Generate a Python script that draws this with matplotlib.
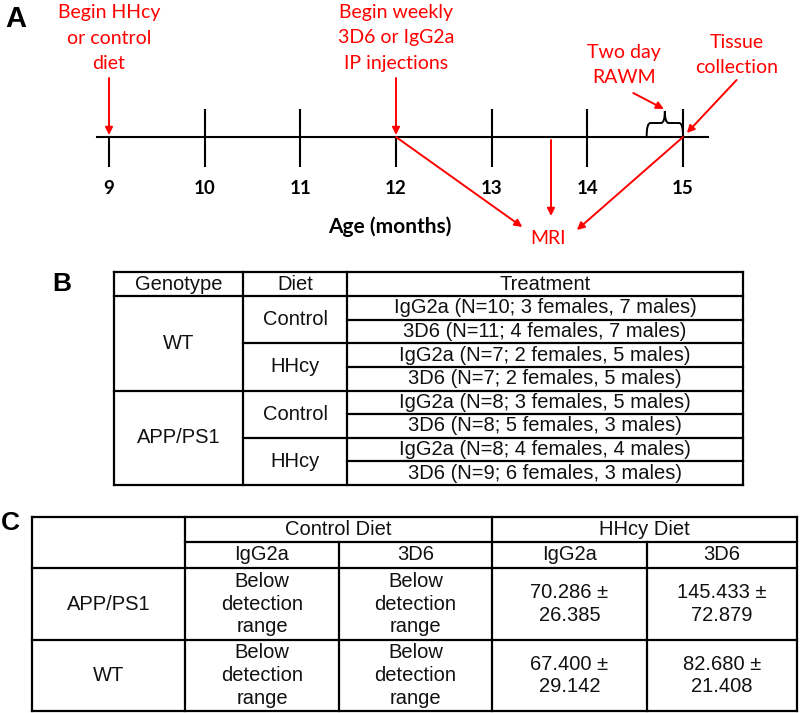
import numpy as np
import matplotlib.pyplot as plt
from matplotlib.path import Path
from matplotlib.patches import PathPatch

# ---- panel A: study timeline (age in months) ----
months = [9, 10, 11, 12, 13, 14, 15]
start_events = ["Begin HHcy\nor control\ndiet", "Begin weekly\n3D6 or IgG2a\nIP injections"]
start_months = [9, 12]
mri_month = 13.62
rawm_months = [14.62, 15.0]
tissue_month = 15

# ---- panel B: experimental groups ----
b_header = ["Genotype", "Diet", "Treatment"]
genotypes = ["WT", "APP/PS1"]
diets = ["Control", "HHcy"]
treatments = [
    "IgG2a (N=10; 3 females, 7 males)",
    "3D6 (N=11; 4 females, 7 males)",
    "IgG2a (N=7; 2 females, 5 males)",
    "3D6 (N=7; 2 females, 5 males)",
    "IgG2a (N=8; 3 females, 5 males)",
    "3D6 (N=8; 5 females, 3 males)",
    "IgG2a (N=8; 4 females, 4 males)",
    "3D6 (N=9; 6 females, 3 males)",
]

# ---- panel C: plasma values ----
c_diets = ["Control Diet", "HHcy Diet"]
c_antibodies = ["IgG2a", "3D6", "IgG2a", "3D6"]
c_rows = ["APP/PS1", "WT"]
c_mean = [[None, None, 70.286, 145.433], [None, None, 67.400, 82.680]]
c_sd = [[None, None, 26.385, 72.879], [None, None, 29.142, 21.408]]
below = "Below\ndetection\nrange"

RED = "#ff0000"
TL_FONT = "Lato"
TAB_FONT = "Liberation Sans"
TAB_SIZE = 14.5

fig = plt.figure(figsize=(8, 7.13), dpi=100)

# pixel-space axes for the tables and panel letters
pix = fig.add_axes([0, 0, 1, 1])
pix.set_xlim(0, 800)
pix.set_ylim(713, 0)
pix.axis("off")

# timeline axes: x in months
tl = fig.add_axes([0, 0, 1, 1])
ppm = 95.67  # pixels per month
tl.set_xlim(9 - 109 / ppm, 9 + 691 / ppm)
tl.set_ylim(713, 0)
tl.axis("off")

# panel letters
for letter, (x, y), fs in zip("ABC", [(16, 19), (62, 284), (10, 523)], [21, 19, 19]):
    pix.text(x, y, letter, ha="center", va="center", fontsize=fs,
             fontweight="bold", family="Liberation Sans")

# ---- A ----
tl.plot([8.875, 15.26], [137, 137], color="k", lw=1.5)
for m in months:
    top = 137 if m in start_months else 110
    tl.plot([m, m], [top, 166], color="k", lw=1.5)
    tl.text(m, 188, str(m), ha="center", va="center", fontsize=13.5,
            fontweight="bold", family=TL_FONT)
tl.text(11.94, 227, "Age (months)", ha="center", va="center", fontsize=15,
        fontweight="bold", family=TL_FONT)

arrow = dict(arrowstyle="-|>", color=RED, lw=1.4, mutation_scale=11,
             shrinkA=0, shrinkB=0)
tfont = dict(color=RED, fontsize=14, family=TL_FONT, ha="center",
             va="center", linespacing=1.58)

for label, m in zip(start_events, start_months):
    tl.text(m, 38, label, **tfont)
    tl.annotate("", xy=(m, 135), xytext=(m, 78), arrowprops=arrow)

# MRI
tl.text(mri_month - 0.03, 238, "MRI", **tfont)
tl.annotate("", xy=(mri_month, 216), xytext=(mri_month, 140), arrowprops=arrow)
tl.annotate("", xy=(13.32, 227), xytext=(12, 137), arrowprops=arrow)
tl.annotate("", xy=(13.89, 230), xytext=(tissue_month, 137), arrowprops=arrow)

# RAWM brace
l, r = rawm_months
c = (l + r) / 2
d = 0.04
verts = [(l, 136), (l, 123), (l + d, 123), (c - d, 123), (c, 123), (c, 111),
         (c, 123), (c + d, 123), (r - d, 123), (r, 123), (r, 136)]
codes = [Path.MOVETO, Path.CURVE3, Path.CURVE3, Path.LINETO, Path.CURVE3,
         Path.CURVE3, Path.CURVE3, Path.CURVE3, Path.LINETO, Path.CURVE3,
         Path.CURVE3]
tl.add_patch(PathPatch(Path(verts, codes), fill=False, color="k", lw=1.4))
tl.text(14.38, 65, "Two day\nRAWM", **tfont)
tl.annotate("", xy=(c - 0.01, 109), xytext=(14.48, 93), arrowprops=arrow)

tl.text(15.56, 55, "Tissue\ncollection", **tfont)
tl.annotate("", xy=(tissue_month + 0.04, 133), xytext=(15.56, 80), arrowprops=arrow)

# ---- table helpers ----
LW = 1.6


def hline(y, x0, x1):
    pix.plot([x0, x1], [y, y], color="k", lw=LW, solid_capstyle="projecting")


def vline(x, y0, y1):
    pix.plot([x, x], [y0, y1], color="k", lw=LW, solid_capstyle="projecting")


def cell_text(x, y, s, **kw):
    pix.text(x, y, s, ha="center", va="center", fontsize=TAB_SIZE,
             family=TAB_FONT, color="#111111", **kw)


# ---- B ----
bx = [114, 243, 347, 743]
b_top = 272
by = np.linspace(296, 485, len(treatments) + 1)

hline(b_top, bx[0], bx[-1])
hline(by[0], bx[0], bx[-1])
for x in bx:
    vline(x, b_top, by[-1])
for i in range(1, len(treatments) + 1):
    if i % 4 == 0:
        x0 = bx[0]
    elif i % 2 == 0:
        x0 = bx[1]
    else:
        x0 = bx[2]
    hline(by[i], x0, bx[-1])

for i, h in enumerate(b_header):
    cell_text((bx[i] + bx[i + 1]) / 2, (b_top + by[0]) / 2, h)
for gi, g in enumerate(genotypes):
    cell_text((bx[0] + bx[1]) / 2, (by[gi * 4] + by[gi * 4 + 4]) / 2, g)
    for di, dname in enumerate(diets):
        k = gi * 2 + di
        cell_text((bx[1] + bx[2]) / 2, (by[k * 2] + by[k * 2 + 2]) / 2, dname)
for i, t in enumerate(treatments):
    cell_text((bx[2] + bx[3]) / 2, (by[i] + by[i + 1]) / 2, t)

# ---- C ----
cx = [32, 185, 339, 492, 647, 797]
cy = [517, 542, 568, 640, 711]

hline(cy[0], cx[0], cx[-1])
hline(cy[1], cx[1], cx[-1])
hline(cy[2], cx[0], cx[-1])
hline(cy[3], cx[0], cx[-1])
hline(cy[4], cx[0], cx[-1])
for x in [cx[0], cx[1], cx[3], cx[5]]:
    vline(x, cy[0], cy[4])
for x in [cx[2], cx[4]]:
    vline(x, cy[1], cy[4])

for j, dname in enumerate(c_diets):
    cell_text((cx[1 + 2 * j] + cx[3 + 2 * j]) / 2, (cy[0] + cy[1]) / 2, dname)
for j, ab in enumerate(c_antibodies):
    cell_text((cx[1 + j] + cx[2 + j]) / 2, (cy[1] + cy[2]) / 2, ab)
for i, rname in enumerate(c_rows):
    ymid = (cy[2 + i] + cy[3 + i]) / 2
    cell_text((cx[0] + cx[1]) / 2, ymid, rname)
    for j in range(4):
        if c_mean[i][j] is None:
            s = below
        else:
            s = f"{c_mean[i][j]:.3f} \u00b1\n{c_sd[i][j]:.3f}"
        cell_text((cx[1 + j] + cx[2 + j]) / 2, ymid, s, linespacing=1.25)

fig.savefig("out.png", dpi=100)
